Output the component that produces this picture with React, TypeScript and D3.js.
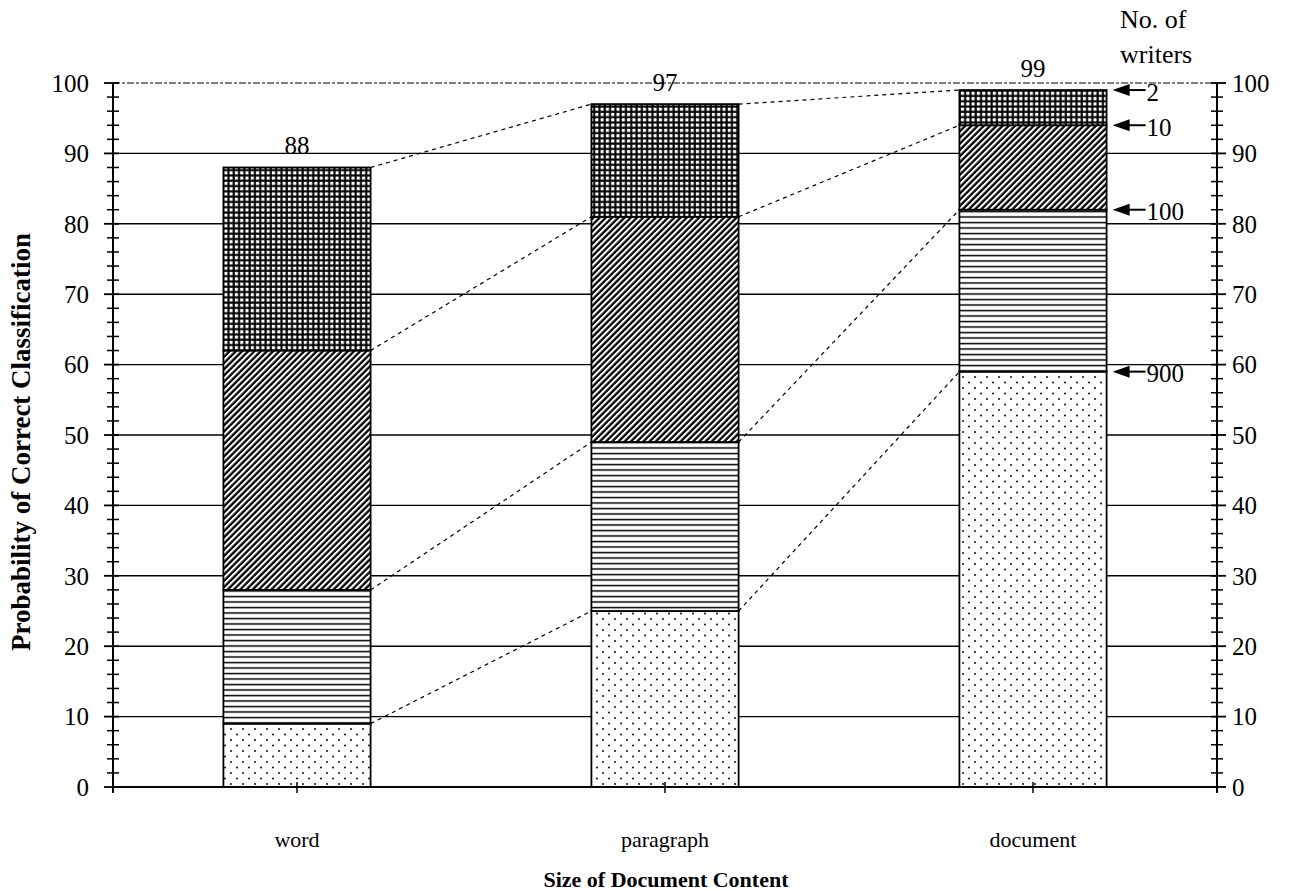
import React from "react";
import * as d3 from "d3";

const categories = ["word", "paragraph", "document"];
const writerGroups = ["900", "100", "10", "2"];
// segment values (bottom to top) per category, in the order of writerGroups
const seg900 = [9, 25, 59];
const seg100 = [19, 24, 23];
const seg10 = [34, 32, 12];
const seg2 = [26, 16, 5];
const totals = [88, 97, 99];
const yTicks = [0, 10, 20, 30, 40, 50, 60, 70, 80, 90, 100];

const W = 1291;
const H = 891;
const M = { left: 113, right: 1217, top: 83, bottom: 787 };
const FONT = "'Liberation Serif', 'Times New Roman', serif";

export default function App() {
  const x = d3
    .scaleBand<string>()
    .domain(categories)
    .range([M.left, M.right])
    .paddingInner(0.6)
    .paddingOuter(0.3);
  const y = d3.scaleLinear().domain([0, 100]).range([M.bottom, M.top]);

  const rows = categories.map((c, i) => ({
    cat: c,
    "900": seg900[i],
    "100": seg100[i],
    "10": seg10[i],
    "2": seg2[i],
  }));
  const stack = d3.stack<any>().keys(writerGroups)(rows);
  const fills: Record<string, string> = {
    "900": "url(#pDots)",
    "100": "url(#pHoriz)",
    "10": "url(#pDiag)",
    "2": "url(#pCross)",
  };

  const minorTicks = d3.range(0, 101, 2).filter((v) => v % 10 !== 0);
  const bw = x.bandwidth();

  const connectors: { x1: number; y1: number; x2: number; y2: number }[] = [];
  stack.forEach((layer) => {
    for (let i = 0; i < categories.length - 1; i++) {
      connectors.push({
        x1: (x(categories[i]) as number) + bw,
        y1: y(layer[i][1]),
        x2: x(categories[i + 1]) as number,
        y2: y(layer[i + 1][1]),
      });
    }
  });

  const lastIdx = categories.length - 1;
  const lastRight = (x(categories[lastIdx]) as number) + bw;

  return (
    <svg
      width={W}
      height={H}
      style={{ position: "absolute", left: 0, top: 0, background: "#fff" }}
      fontFamily={FONT}
    >
      <defs>
        <pattern id="pDots" width={12} height={11} patternUnits="userSpaceOnUse">
          <rect width={12} height={11} fill="#fff" />
          <circle cx={3} cy={3} r={0.95} fill="#000" />
          <circle cx={9} cy={8.5} r={0.95} fill="#000" />
        </pattern>
        <pattern id="pHoriz" width={8} height={5.5} patternUnits="userSpaceOnUse">
          <rect width={8} height={5.5} fill="#fff" />
          <line x1={0} x2={8} y1={2.5} y2={2.5} stroke="#000" strokeWidth={1.5} />
        </pattern>
        <pattern
          id="pDiag"
          width={4.4}
          height={4.4}
          patternUnits="userSpaceOnUse"
          patternTransform="rotate(45)"
        >
          <rect width={4.4} height={4.4} fill="#fff" />
          <line x1={1.5} x2={1.5} y1={0} y2={4.4} stroke="#000" strokeWidth={2.3} />
        </pattern>
        <pattern id="pCross" width={5.3} height={5.3} patternUnits="userSpaceOnUse">
          <rect width={5.3} height={5.3} fill="#000" />
          <rect x={1.6} y={1.6} width={3.2} height={3.2} fill="#fff" />
        </pattern>
      </defs>

      {/* gridlines */}
      {yTicks
        .filter((t) => t > 0 && t < 100)
        .map((t) => (
          <line
            key={"g" + t}
            x1={M.left}
            x2={M.right}
            y1={y(t)}
            y2={y(t)}
            stroke="#000"
            strokeWidth={1.4}
          />
        ))}
      <line
        x1={M.left}
        x2={M.right}
        y1={y(100)}
        y2={y(100)}
        stroke="#000"
        strokeWidth={1.2}
        strokeDasharray="7 2 3 2"
      />

      {/* connectors */}
      {connectors.map((c, i) => (
        <line
          key={"c" + i}
          x1={c.x1}
          y1={c.y1}
          x2={c.x2}
          y2={c.y2}
          stroke="#000"
          strokeWidth={1.2}
          strokeDasharray="4 4"
        />
      ))}

      {/* bars */}
      {stack.map((layer) =>
        layer.map((d, i) => (
          <rect
            key={layer.key + i}
            x={x(categories[i]) as number}
            y={y(d[1])}
            width={bw}
            height={y(d[0]) - y(d[1])}
            fill={fills[layer.key]}
            stroke="#000"
            strokeWidth={1.8}
          />
        ))
      )}

      {/* total labels */}
      {categories.map((c, i) => (
        <text
          key={"t" + c}
          x={(x(c) as number) + bw / 2}
          y={y(totals[i]) - 13}
          textAnchor="middle"
          fontSize={25}
        >
          {totals[i]}
        </text>
      ))}

      {/* axes */}
      <line x1={M.left} x2={M.right} y1={y(0)} y2={y(0)} stroke="#000" strokeWidth={2} />
      <line x1={M.left} x2={M.left} y1={y(0) + 6} y2={y(100)} stroke="#000" strokeWidth={2} />
      <line x1={M.right} x2={M.right} y1={y(0) + 6} y2={y(100)} stroke="#000" strokeWidth={2} />
      {yTicks.map((t) => (
        <g key={"yt" + t}>
          <line x1={M.left - 9} x2={M.left + 6} y1={y(t)} y2={y(t)} stroke="#000" strokeWidth={1.8} />
          <line x1={M.right - 6} x2={M.right + 9} y1={y(t)} y2={y(t)} stroke="#000" strokeWidth={1.8} />
          <text x={M.left - 24} y={y(t)} dy="0.35em" textAnchor="end" fontSize={25}>
            {t}
          </text>
          <text x={M.right + 15} y={y(t)} dy="0.35em" textAnchor="start" fontSize={25}>
            {t}
          </text>
        </g>
      ))}
      {minorTicks.map((t) => (
        <g key={"mt" + t}>
          <line x1={M.left - 6} x2={M.left + 6} y1={y(t)} y2={y(t)} stroke="#000" strokeWidth={1.5} />
          <line x1={M.right - 6} x2={M.right + 6} y1={y(t)} y2={y(t)} stroke="#000" strokeWidth={1.5} />
        </g>
      ))}
      {categories.map((c) => {
        const cx = (x(c) as number) + bw / 2;
        return (
          <g key={"xc" + c}>
            <line x1={cx} x2={cx} y1={y(0) - 5} y2={y(0) + 6} stroke="#000" strokeWidth={1.5} />
            <text x={cx} y={847} textAnchor="middle" fontSize={22}>
              {c}
            </text>
          </g>
        );
      })}

      {/* axis titles */}
      <text x={666} y={887} textAnchor="middle" fontSize={22} fontWeight="bold">
        Size of Document Content
      </text>
      <text
        transform={`translate(30, 442) rotate(-90)`}
        textAnchor="middle"
        fontSize={27}
        fontWeight="bold"
      >
        Probability of Correct Classification
      </text>

      {/* writer annotations */}
      <text x={1120} y={28} fontSize={26}>
        No. of
      </text>
      <text x={1120} y={63} fontSize={26}>
        writers
      </text>
      {stack.map((layer) => {
        const yy = y(layer[lastIdx][1]);
        const tip = lastRight + 6;
        return (
          <g key={"ann" + layer.key}>
            <path
              d={`M${tip},${yy} L${tip + 17},${yy - 6} L${tip + 17},${yy + 6} Z`}
              fill="#000"
            />
            <line x1={tip + 15} x2={tip + 33} y1={yy} y2={yy} stroke="#000" strokeWidth={2} />
            <text x={tip + 34} y={yy} dy="0.42em" fontSize={25}>
              {layer.key}
            </text>
          </g>
        );
      })}
    </svg>
  );
}
